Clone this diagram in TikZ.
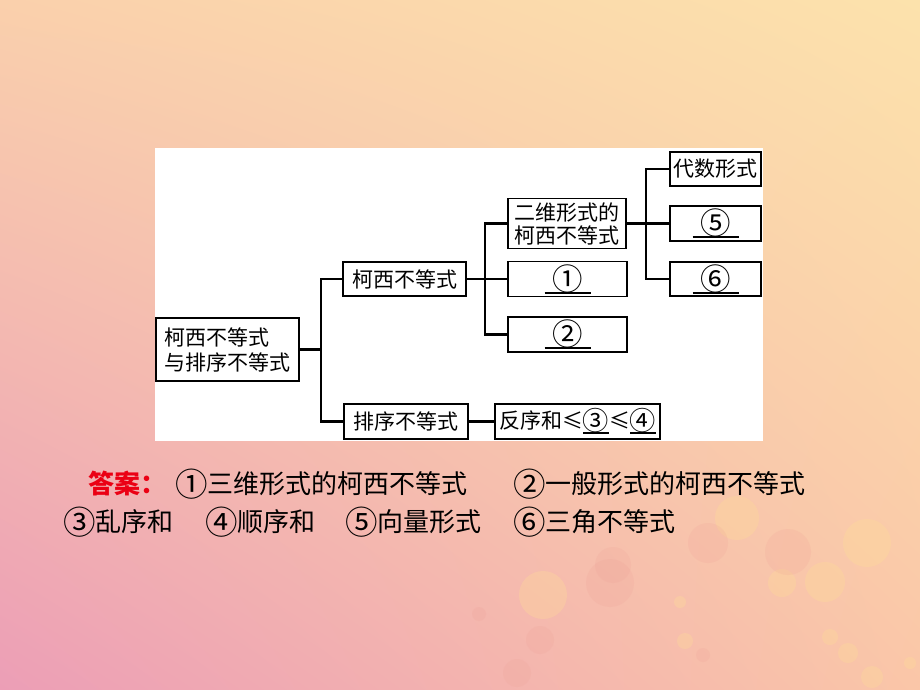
\documentclass[tikz,border=0pt]{standalone}
\usepackage{fontspec}
\usetikzlibrary{shadings}
\newfontfamily\cjk{Noto Sans CJK SC}
\definecolor{bgul}{RGB}{250,208,172}
\definecolor{bgur}{RGB}{252,226,172}
\definecolor{bgll}{RGB}{236,158,182}
\definecolor{bglr}{RGB}{250,198,168}
\definecolor{dotY}{RGB}{255,222,150}
\definecolor{dotS}{RGB}{238,160,150}
\definecolor{ansred}{RGB}{235,0,20}
\newcommand{\cn}[2][1.45]{\raisebox{-0.12em}{\scalebox{#1}{#2}}}
\newcommand{\blank}[3][1.45]{\makebox[#2]{\cn[#1]{#3}}\llap{\rule[-6pt]{#2}{2pt}}}
\begin{document}
\begin{tikzpicture}
  [x=1pt, y=-1pt,
   box/.style = {draw, line width=1.8pt, inner sep=0pt, align=center,
                 font=\cjk\fontsize{21}{24}\selectfont},
   link/.style = {line width=2.2pt},
   answer/.style = {anchor=base west, inner sep=0pt,
                    font=\cjk\fontsize{26}{30}\selectfont}]
  \useasboundingbox (0,0) rectangle (920,690);
  \shade[upper left=bgul, upper right=bgur, lower left=bgll, lower right=bglr]
    (0,0) rectangle (920,690);
  \foreach \x/\y/\r in {737/518/22, 782/583/14, 825/582/20, 867/543/24, 543/595/24,
                        680/602/6, 685/641/8, 848/653/10, 872/677/11, 830/637/8, 910/663/6}
    \fill[dotY, opacity=0.3] (\x,\y) circle (\r);
  \foreach \x/\y/\r in {708/543/20, 788/552/23, 610/583/24, 613/565/18, 540/640/14,
                        479/614/7, 703/655/7, 517/673/14}
    \fill[dotS, opacity=0.18] (\x,\y) circle (\r);
  \fill[white] (155,148) rectangle (763,441);

  \node[box, minimum width=143, minimum height=63, text depth=0pt,
        font=\cjk\fontsize{21}{25}\selectfont, align=left] (R) at (227.5,349.5)
    {柯西不等式\\与排序不等式};
  \node[box, minimum width=123, minimum height=34] (K) at (404.5,279) {柯西不等式};
  \node[box, minimum width=124, minimum height=35] (P) at (406,421.5) {排序不等式};
  \node[box, minimum width=165, minimum height=35] (F) at (577.5,421.5)
    {反序和≤\blank[1.25]{26pt}{③}≤\blank[1.25]{26pt}{④}};
  \node[box, minimum width=118, minimum height=50,
        font=\cjk\fontsize{21}{23}\selectfont] (E) at (567,223.5) {二维形式的\\柯西不等式};
  \node[box, minimum width=119, minimum height=35] (N1) at (567.5,279) {\blank{46pt}{①}};
  \node[box, minimum width=119, minimum height=35] (N2) at (567.5,334.5) {\blank{46pt}{②}};
  \node[box, minimum width=91, minimum height=34] (D) at (715.5,169) {代数形式};
  \node[box, minimum width=91, minimum height=35] (N5) at (715.5,223.5) {\blank{46pt}{⑤}};
  \node[box, minimum width=91, minimum height=34] (N6) at (715.5,279) {\blank{46pt}{⑥}};

  \coordinate (J1) at (321,349.5);
  \coordinate (J2) at (485,279);
  \coordinate (J3) at (646,223.5);
  \draw[link] (R.east) -- (J1);
  \draw[link] (J1) |- (K.west);
  \draw[link] (J1) |- (P.west);
  \draw[link] (P.east) -- (F.west);
  \draw[link] (K.east) -- (N1.west);
  \draw[link] (J2) |- (E.west);
  \draw[link] (J2) |- (N2.west);
  \draw[link] (E.east) -- (N5.west);
  \draw[link] (J3) |- (D.west);
  \draw[link] (J3) |- (N6.west);

  \node[answer, text=ansred, font=\cjk\bfseries\fontsize{26}{30}\selectfont] (A0) at (88,493) {答案：};
  \node[answer] (A1) at (175,493) {\cn[1.25]{①}三维形式的柯西不等式};
  \node[answer] (A2) at (513,493) {\cn[1.25]{②}一般形式的柯西不等式};
  \node[answer] (A3) at (63,531) {\cn[1.25]{③}乱序和};
  \node[answer] (A4) at (205,531) {\cn[1.25]{④}顺序和};
  \node[answer] (A5) at (345,531) {\cn[1.25]{⑤}向量形式};
  \node[answer] (A6) at (513,531) {\cn[1.25]{⑥}三角不等式};
\end{tikzpicture}
\end{document}
